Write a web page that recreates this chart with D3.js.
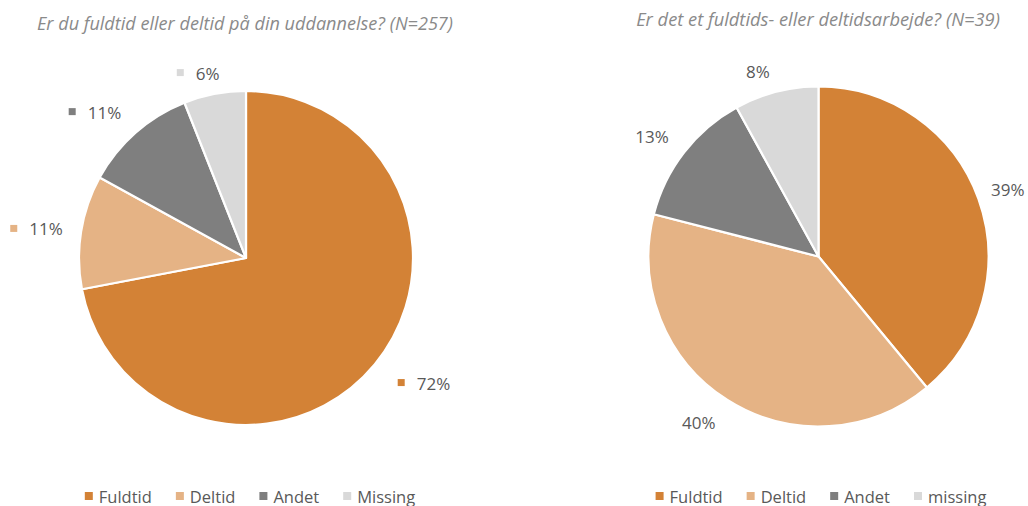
<!DOCTYPE html>
<html>
<head>
<meta charset="utf-8">
<script src="https://cdn.jsdelivr.net/npm/d3@7"></script>
<style>
  html, body { margin: 0; padding: 0; background: #fff; }
  svg { display: block; }
</style>
</head>
<body>
<svg id="chart" width="1028" height="506"></svg>
<script>
// ---- data ----
const leftTitle = "Er du fuldtid eller deltid på din uddannelse? (N=257)";
const leftCategories = ["Fuldtid", "Deltid", "Andet", "Missing"];
const leftValues = [72, 11, 11, 6];

const rightTitle = "Er det et fuldtids- eller deltidsarbejde? (N=39)";
const rightCategories = ["Fuldtid", "Deltid", "Andet", "missing"];
const rightValues = [39, 40, 13, 8];

const sliceColors = ["#D38236", "#E5B385", "#7F7F7F", "#D9D9D9"];

// ---- layout ----
const FONT = "'Open Sans', 'Noto Sans', sans-serif";
const charts = [
  {
    title: leftTitle, cats: leftCategories, vals: leftValues,
    cx: 246, cy: 258, r: 167, titleY: 30, titleW: 416, titleCx: 245,
    labelMarkers: true,
    labelAngleNudge: [-4.5, -1.1, -4.6, -3.7],
    labelExtra: [50.5, 44.5, 43, 24],
    legendCx: 250
  },
  {
    title: rightTitle, cats: rightCategories, vals: rightValues,
    cx: 818.5, cy: 256.5, r: 170, titleY: 26, titleW: 364, titleCx: 818,
    labelMarkers: false,
    labelAngleNudge: [0.2, 3.3, -2.1, -3.7],
    labelExtra: [31, 35, 35, 25],
    legendCx: 821
  }
];

const svg = d3.select("#chart");

function fitText(sel, target) {
  const w = sel.node().getComputedTextLength();
  const fs = parseFloat(sel.attr("font-size"));
  sel.attr("font-size", fs * target / w);
}

charts.forEach(c => {
  const g = svg.append("g");
  const total = d3.sum(c.vals);

  // title
  const t = g.append("text")
    .attr("x", c.titleCx).attr("y", c.titleY)
    .attr("text-anchor", "middle")
    .attr("font-family", FONT).attr("font-style", "italic")
    .attr("font-size", 16).attr("fill", "#8A8A8A")
    .text(c.title);
  fitText(t, c.titleW);

  const pie = d3.pie().sort(null).value(d => d)(c.vals);
  const arc = d3.arc().innerRadius(0).outerRadius(c.r);
  const color = d3.scaleOrdinal().domain(c.cats).range(sliceColors);

  const pg = g.append("g").attr("transform", `translate(${c.cx},${c.cy})`);
  pg.selectAll("path").data(pie).join("path")
    .attr("d", arc)
    .attr("fill", (d, i) => color(c.cats[i]))
    .attr("stroke", "#fff").attr("stroke-width", 2.2)
    .attr("stroke-linejoin", "round");

  // data labels
  pie.forEach((d, i) => {
    const mid = (d.startAngle + d.endAngle) / 2 + c.labelAngleNudge[i] * Math.PI / 180;
    const dist = c.r + c.labelExtra[i];
    const x = Math.sin(mid) * dist, y = -Math.cos(mid) * dist;
    const lab = Math.round(d.value / total * 100) + "%";
    const lg = pg.append("g").attr("transform", `translate(${x},${y})`);
    const txt = lg.append("text")
      .attr("font-family", FONT).attr("font-size", 17)
      .attr("fill", "#595959")
      .attr("dominant-baseline", "central")
      .text(lab);
    const tw = txt.node().getComputedTextLength();
    if (c.labelMarkers) {
      const ms = 7, gap = 12;
      const total_w = ms + gap + tw;
      lg.append("rect")
        .attr("x", -total_w / 2).attr("y", -ms / 2 - 0.5)
        .attr("width", ms).attr("height", ms)
        .attr("fill", color(c.cats[i]));
      txt.attr("x", -total_w / 2 + ms + gap);
    } else {
      txt.attr("text-anchor", "middle");
    }
  });

  // legend
  const leg = g.append("g");
  const items = [];
  let xpos = 0;
  const ms = 8, gap = 6, itemGap = 24;
  c.cats.forEach((cat, i) => {
    const ig = leg.append("g");
    ig.append("rect").attr("x", xpos).attr("y", 496 - ms / 2)
      .attr("width", ms).attr("height", ms).attr("fill", color(cat));
    const tx = ig.append("text")
      .attr("x", xpos + ms + gap).attr("y", 496)
      .attr("dominant-baseline", "central")
      .attr("font-family", FONT).attr("font-size", 16.5)
      .attr("fill", "#595959").text(cat);
    xpos += ms + gap + tx.node().getComputedTextLength() + itemGap;
  });
  const legW = xpos - itemGap;
  leg.attr("transform", `translate(${c.legendCx - legW / 2},0)`);
});
</script>
</body>
</html>
